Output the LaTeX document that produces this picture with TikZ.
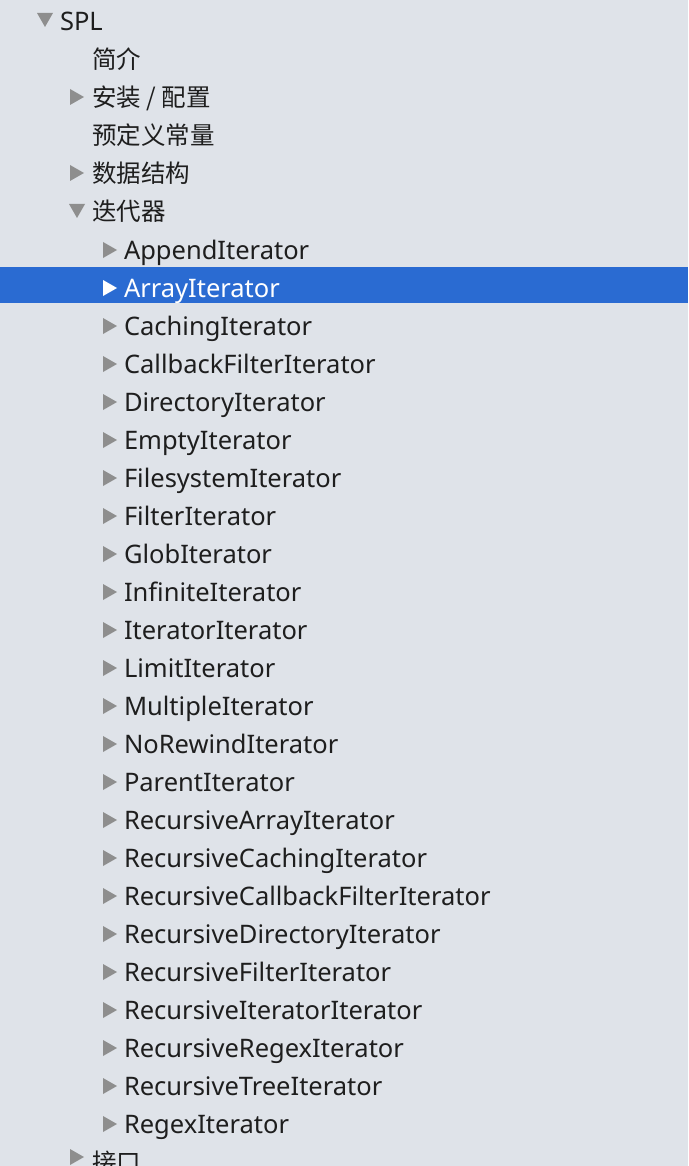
\documentclass[tikz,border=0pt]{standalone}
\usepackage{fontspec}
\setmainfont{Noto Sans}
\newfontfamily\cjk{Noto Sans CJK SC}
\definecolor{bgc}{RGB}{223,227,233}
\definecolor{selc}{RGB}{42,107,210}
\definecolor{tric}{RGB}{142,142,142}
\definecolor{txtc}{RGB}{30,30,30}
\begin{document}
\begin{tikzpicture}[x=1pt,y=-1pt,
  item/.style={anchor=base west,inner sep=0pt,outer sep=0pt,font=\fontsize{25.5}{28}\selectfont,text=txtc},
  citem/.style={item,font=\cjk\fontsize{24.5}{28}\selectfont},
  tri/.style={fill=tric,draw=none}]
\useasboundingbox (0,0) rectangle (688,1166);
\clip (0,0) rectangle (688,1166);
\fill[bgc] (0,0) rectangle (688,1166);
% selection band
\fill[selc] (0,267) rectangle (688,303);
% level 0
\node[item] (r0) at (60,31) {SPL};
\fill[tri] (37,13) -- (53,13) -- (45,27) -- cycle;
% level 1
\node[citem] (r1) at (92,69) {简介};
\node[citem] (r2) at (92,107) {安装 / 配置};
\fill[tri] (70,89) -- (84,97) -- (70,105) -- cycle;
\node[citem] (r3) at (92,145) {预定义常量};
\node[citem] (r4) at (92,183) {数据结构};
\fill[tri] (70,165) -- (84,173) -- (70,181) -- cycle;
\node[citem] (r5) at (92,221) {迭代器};
\fill[tri] (69,204) -- (85,204) -- (77,218) -- cycle;
% level 2
\foreach \name [count=\k from 6] in {AppendIterator,ArrayIterator,CachingIterator,CallbackFilterIterator,DirectoryIterator,EmptyIterator,FilesystemIterator,FilterIterator,GlobIterator,InfiniteIterator,IteratorIterator,LimitIterator,MultipleIterator,NoRewindIterator,ParentIterator,RecursiveArrayIterator,RecursiveCachingIterator,RecursiveCallbackFilterIterator,RecursiveDirectoryIterator,RecursiveFilterIterator,RecursiveIteratorIterator,RecursiveRegexIterator,RecursiveTreeIterator,RegexIterator}{
  \pgfmathsetmacro{\yb}{31+38*\k}
  \pgfmathsetmacro{\yt}{22+38*\k}
  \ifnum\k=7
    \node[item,text=white] (r\k) at (124,\yb) {\name};
    \fill[white] (103,\yt-8) -- (117,\yt) -- (103,\yt+8) -- cycle;
  \else
    \node[item] (r\k) at (124,\yb) {\name};
    \fill[tri] (103,\yt-8) -- (117,\yt) -- (103,\yt+8) -- cycle;
  \fi
}
% last level-1 row (cut off)
\node[citem] (r30) at (92,1171) {接口};
\fill[tri] (70,1149) -- (84,1157) -- (70,1165) -- cycle;
\end{tikzpicture}
\end{document}
